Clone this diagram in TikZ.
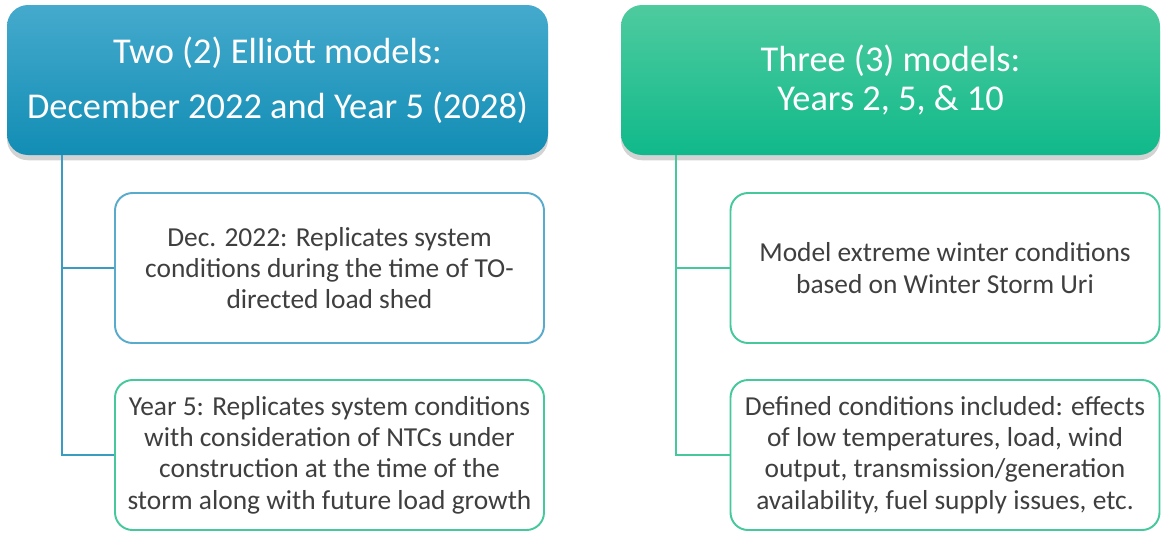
\documentclass[tikz,border=0pt]{standalone}
\usepackage{fontspec}
\setmainfont{Carlito}
\usetikzlibrary{shadows}

\definecolor{elliotttop}{HTML}{45AACD}
\definecolor{elliottbot}{HTML}{128DB4}
\definecolor{uritop}{HTML}{4ECB9F}
\definecolor{uribot}{HTML}{10B98A}
\definecolor{blueline}{HTML}{3A9CC3}
\definecolor{greenline}{HTML}{45C99C}
\definecolor{bodytext}{HTML}{3F3F3F}

\tikzset{
    header/.style={rounded corners=12pt, inner sep=0pt, align=center,
        text=white, font=\fontsize{20.7}{31.2}\selectfont,
        drop shadow={opacity=0.35, shadow xshift=0pt, shadow yshift=-3pt}},
    detail/.style={draw, line width=1.1pt, rounded corners=10pt, fill=white,
        minimum width=429*0.02cm, minimum height=150*0.02cm, inner sep=0pt,
        align=center, text=bodytext, font=\fontsize{15.6}{17.8}\selectfont},
    trunk/.style={line width=1.1pt},
}

\begin{document}
\begin{tikzpicture}[x=0.02cm, y=-0.02cm]
    \useasboundingbox (0,0) rectangle (1162,535);

    % the two headers
    \node[header, top color=elliotttop, bottom color=elliottbot,
        minimum width=541*0.02cm, minimum height=150*0.02cm] (elliott) at (277.5,80)
        {Two (2) Elliott models:\\December 2022 and Year 5 (2028)};
    \node[header, top color=uritop, bottom color=uribot,
        font=\fontsize{20.7}{22.7}\selectfont,
        minimum width=539*0.02cm, minimum height=150*0.02cm] (uri) at (890.5,80)
        {Three (3) models:\\Years 2, 5, \& 10};

    % the detail boxes
    \node[detail, draw=blueline!85] (dec) at (329.5,268)
        {Dec. 2022: Replicates system\\conditions during the time of TO-\\directed load shed};
    \node[detail, draw=greenline] (year) at (329.5,455)
        {Year 5: Replicates system conditions\\with consideration of NTCs under\\construction at the time of the\\storm along with future load growth};
    \node[detail, draw=greenline] (extreme) at (945,268)
        {Model extreme winter conditions\\based on Winter Storm Uri};
    \node[detail, draw=greenline] (defined) at (945,455)
        {Defined conditions included: effects\\of low temperatures, load, wind\\output, transmission/generation\\availability, fuel supply issues, etc.};

    % tree lines
    \draw[trunk, blueline] (elliott.south west) ++(55,0) |- (dec.west);
    \draw[trunk, blueline] (elliott.south west) ++(55,0) |- (year.west);
    \draw[trunk, greenline] (uri.south west) ++(55,0) |- (extreme.west);
    \draw[trunk, greenline] (uri.south west) ++(55,0) |- (defined.west);
\end{tikzpicture}
\end{document}
